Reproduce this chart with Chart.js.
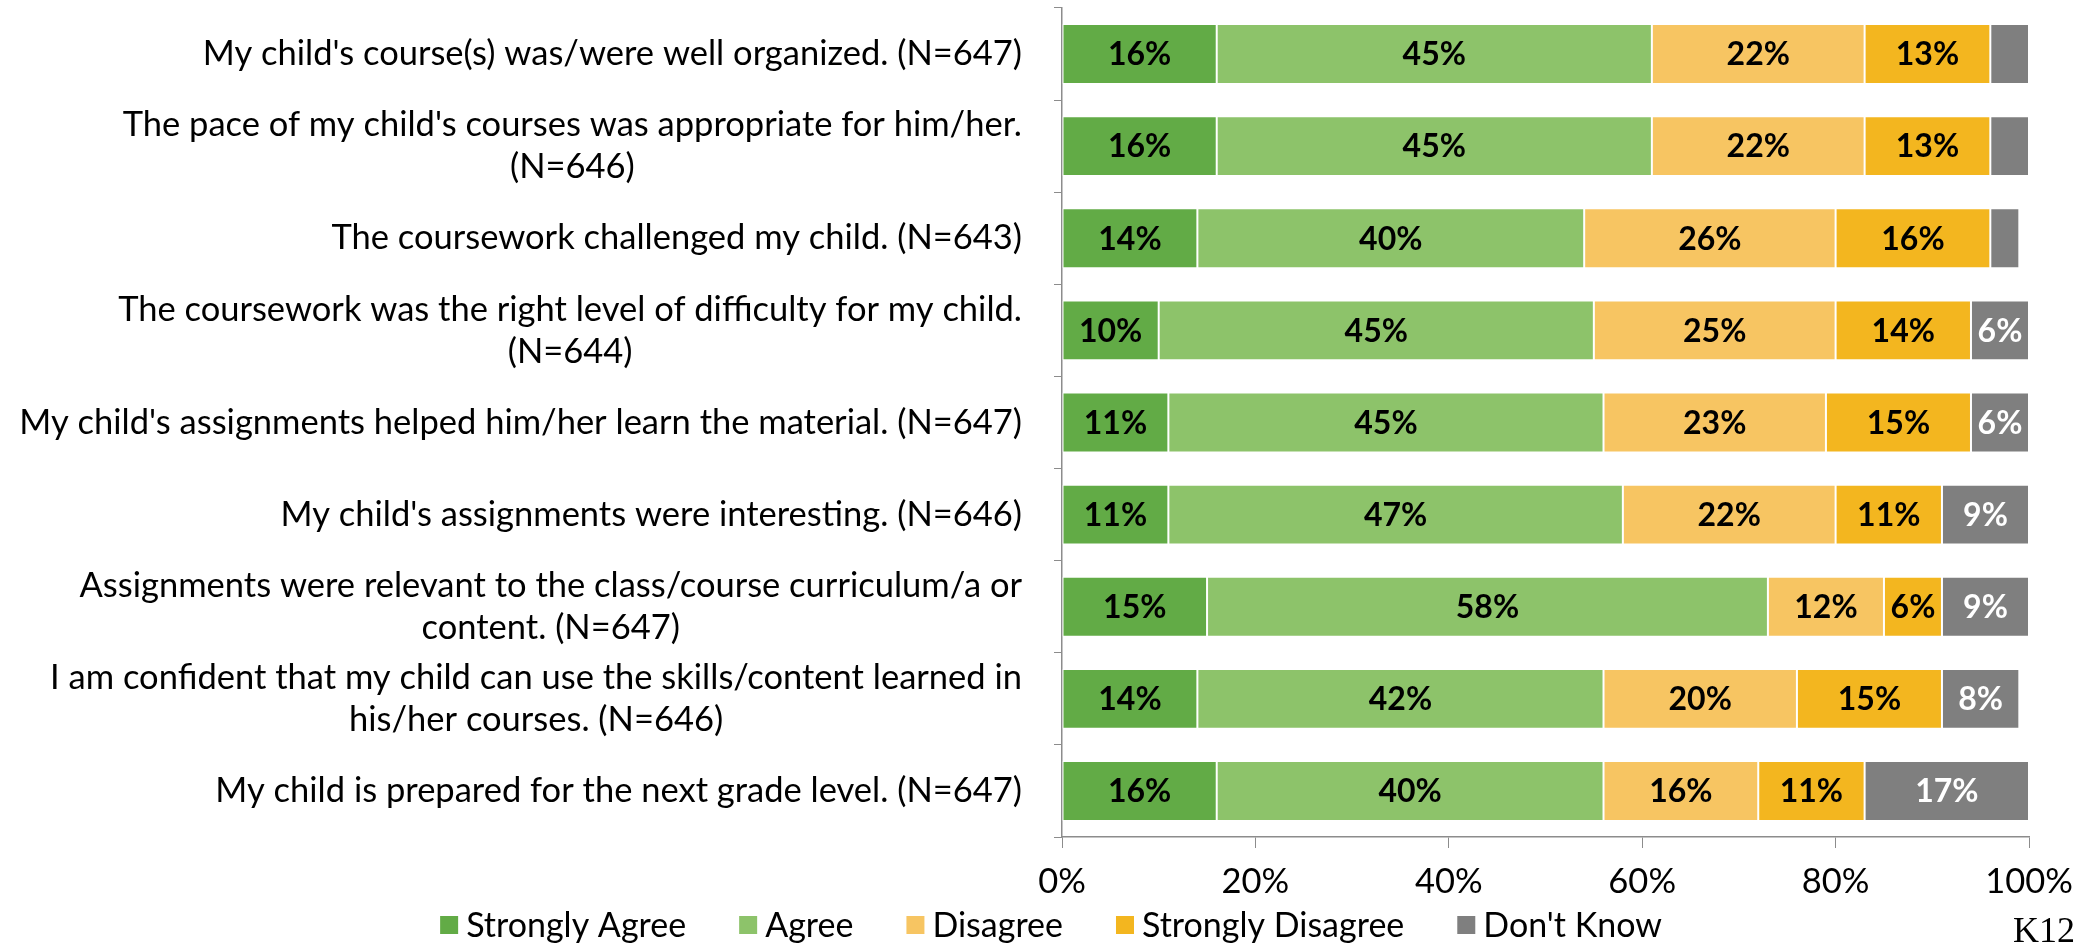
<!doctype html>
<html>
<head>
    <meta charset="utf-8" />
    <title>Course survey</title>
    <script src="https://cdn.jsdelivr.net/npm/chart.js@4.4.1/dist/chart.umd.min.js"></script>
    <style>
        body { margin: 0; background: #fff; }
        #wrap { width: 2087px; height: 945px; position: relative; }
    </style>
</head>
<body>
    <div id="wrap"><canvas id="myChart"></canvas></div>
    <script>
        var categories = [
            ["My child's course(s) was/were well organized. (N=647)"],
            ["The pace of my child's courses was appropriate for him/her.", "(N=646)"],
            ["The coursework challenged my child. (N=643)"],
            ["The coursework was the right level of difficulty for my child.", "(N=644)"],
            ["My child's assignments helped him/her learn the material. (N=647)"],
            ["My child's assignments were interesting. (N=646)"],
            ["Assignments were relevant to the class/course curriculum/a or", "content. (N=647)"],
            ["I am confident that my child can use the skills/content learned in", "his/her courses. (N=646)"],
            ["My child is prepared for the next grade level. (N=647)"]
        ];
        var seriesNames = ["Strongly Agree", "Agree", "Disagree", "Strongly Disagree", "Don't Know"];
        var stronglyAgree    = [16, 16, 14, 10, 11, 11, 15, 14, 16];
        var agree            = [45, 45, 40, 45, 45, 47, 58, 42, 40];
        var disagree         = [22, 22, 26, 25, 23, 22, 12, 20, 16];
        var stronglyDisagree = [13, 13, 16, 14, 15, 11,  6, 15, 11];
        var dontKnow         = [ 4,  4,  3,  6,  6,  9,  9,  8, 17];
        var xTicks = [0, 20, 40, 60, 80, 100];

        var FONT = "Lato, 'Liberation Sans', sans-serif";
        var colors = ["#62AB46", "#8DC36A", "#F7C562", "#F3B61F", "#7F7F7F"];
        var values = [stronglyAgree, agree, disagree, stronglyDisagree, dontKnow];

        var labelPlugin = {
            id: "labels",
            afterDatasetsDraw: function (chart) {
                var ctx = chart.ctx;
                ctx.save();
                ctx.font = "bold 32px " + FONT;
                ctx.textAlign = "center";
                ctx.textBaseline = "middle";
                chart.data.datasets.forEach(function (ds, di) {
                    chart.getDatasetMeta(di).data.forEach(function (bar, i) {
                        var v = ds.data[i];
                        if (v < 5) return;
                        ctx.fillStyle = di === 4 ? "#fff" : "#000";
                        ctx.fillText(v + "%", (bar.x + bar.base) / 2, bar.y + 1);
                    });
                });

                // category labels: lines centred on the widest one, right edge 40px off the axis
                var y = chart.scales.y;
                ctx.font = "34.5px " + FONT;
                ctx.fillStyle = "#000";
                categories.forEach(function (lines, i) {
                    var w = Math.max.apply(null, lines.map(function (l) { return ctx.measureText(l).width; }));
                    var cx = chart.chartArea.left - 40 - w / 2;
                    var cy = y.getPixelForValue(i);
                    lines.forEach(function (l, j) {
                        ctx.fillText(l, cx, cy + (j - (lines.length - 1) / 2) * 42);
                    });
                });

                // legend row (chart.js legend can't do wide gaps with a short box)
                ctx.font = "34px " + FONT;
                ctx.textAlign = "left";
                var box = 18, gap = 8, spacing = 53;
                var widths = seriesNames.map(function (n) { return box + gap + ctx.measureText(n).width; });
                var total = widths.reduce(function (a, b) { return a + b; }, 0) + spacing * (widths.length - 1);
                var lx = 1051 - total / 2, ly = 925;
                seriesNames.forEach(function (n, k) {
                    ctx.fillStyle = colors[k];
                    ctx.fillRect(lx, ly - box / 2, box, box);
                    ctx.fillStyle = "#000";
                    ctx.fillText(n, lx + box + gap, ly + 1);
                    lx += widths[k] + spacing;
                });

                ctx.font = "36px 'Liberation Serif', serif";
                ctx.textAlign = "right";
                ctx.textBaseline = "alphabetic";
                ctx.fillText("K12", chart.width - 12, chart.height - 3);
                ctx.restore();
            }
        };

        var chart = new Chart(document.getElementById("myChart"), {
            type: "bar",
            data: {
                labels: categories,
                datasets: seriesNames.map(function (name, k) {
                    return {
                        label: name, data: values[k], backgroundColor: colors[k],
                        borderColor: "#fff", borderWidth: 1, borderSkipped: false,
                        barPercentage: 0.65, categoryPercentage: 1
                    };
                })
            },
            options: {
                indexAxis: "y",
                responsive: true,
                maintainAspectRatio: false,
                animation: false,
                layout: { padding: { top: 8, left: 0, right: 58, bottom: 38 } },
                scales: {
                    x: {
                        stacked: true, min: 0, max: 100,
                        afterBuildTicks: function (s) { s.ticks = xTicks.map(function (v) { return { value: v }; }); },
                        afterFit: function (s) { s.height = 70; },
                        grid: { drawOnChartArea: false, tickLength: 11, color: "#8c8c8c" },
                        border: { color: "#8c8c8c", width: 1.5 },
                        ticks: { color: "#000", font: { family: FONT, size: 34.5 }, padding: 13, callback: function (v) { return v + "%"; } }
                    },
                    y: {
                        stacked: true,
                        afterFit: function (s) { s.width = 1062; },
                        grid: { drawOnChartArea: false, tickLength: 8, color: "#8c8c8c" },
                        border: { color: "#8c8c8c", width: 1.5 },
                        ticks: { display: false }
                    }
                },
                plugins: {
                    legend: { display: false },
                    tooltip: { enabled: false }
                }
            },
            plugins: [labelPlugin]
        });
    </script>
</body>
</html>
